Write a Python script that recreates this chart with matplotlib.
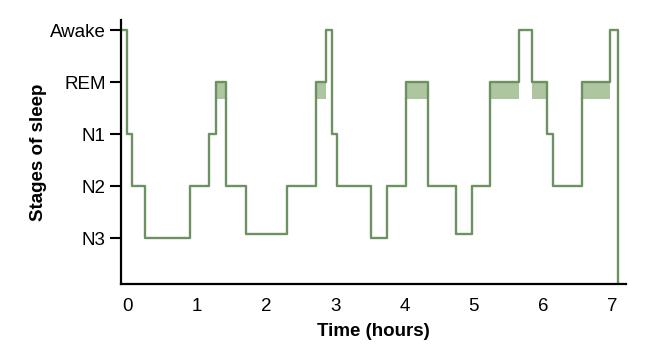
"""
Hypnogram of one night of sleep: stage of sleep against time in hours,
with the REM periods shaded.
"""

from matplotlib import pyplot as plt

# Stage names, bottom to top
stage_labels = ["N3", "N2", "N1", "REM", "Awake"]
stage_levels = [1, 2, 3, 4, 5]

# Change points of the hypnogram (hours) and the stage held from each one
change_times = [-0.09, -0.01, 0.07, 0.26, 0.91, 1.18, 1.28, 1.43, 1.72, 2.31,
                2.73, 2.87, 2.96, 3.03, 3.52, 3.75, 4.03, 4.34, 4.75, 4.98,
                5.24, 5.66, 5.84, 6.06, 6.15, 6.57, 6.97, 7.09]
stage_values = [5, 3, 2, 1, 2, 3, 4, 2, 1.08, 2,
                4, 5, 3, 2, 1, 2, 4, 2, 1.08, 2,
                4, 5, 4, 3, 2, 4, 5, 0]

# REM periods (start, end) and depth of the shaded band under them
rem_starts = [1.28, 2.73, 4.03, 5.24, 5.84, 6.57]
rem_ends = [1.43, 2.87, 4.34, 5.66, 6.06, 6.97]
rem_band_bottom = 3.67

time_ticks = [0, 1, 2, 3, 4, 5, 6, 7]

LINE_COLOR = "#6d9160"
FILL_COLOR = "#adc6a0"


def plotHypnogram():
    """Draws the hypnogram and saves it to out.png."""
    plt.rcParams["font.family"] = ["Liberation Sans", "DejaVu Sans"]
    fig = plt.figure(figsize=(6.6, 3.51), dpi=100)
    ax = fig.add_axes([0.1833, 0.1909, 0.7652, 0.752])

    # shaded REM bands sit under the line
    for start, end in zip(rem_starts, rem_ends):
        ax.fill_between([start, end], rem_band_bottom, 4,
                        color=FILL_COLOR, linewidth=0, zorder=1)

    ax.step(change_times, stage_values, where="post",
            color=LINE_COLOR, linewidth=1.7, zorder=2)

    ax.set_xlim(-0.09, 7.2)
    ax.set_ylim(0.114, 5.2)

    ax.set_yticks(stage_levels)
    ax.set_yticklabels(stage_labels, fontsize=13.5)
    ax.set_xticks(time_ticks)
    ax.set_xticklabels([str(t) for t in time_ticks], fontsize=13.5)

    ax.tick_params(axis="y", length=8, width=1.5, pad=3)
    ax.tick_params(axis="x", length=0, pad=10)

    for side in ["top", "right"]:
        ax.spines[side].set_visible(False)
    for side in ["left", "bottom"]:
        ax.spines[side].set_linewidth(1.6)

    ax.set_xlabel("Time (hours)", fontsize=13.5, fontweight="bold", labelpad=6)
    ax.set_ylabel("Stages of sleep", fontsize=13.5, fontweight="bold", labelpad=2)

    fig.savefig("out.png", dpi=100)


def main():
    plotHypnogram()


if __name__ == "__main__":
    main()
